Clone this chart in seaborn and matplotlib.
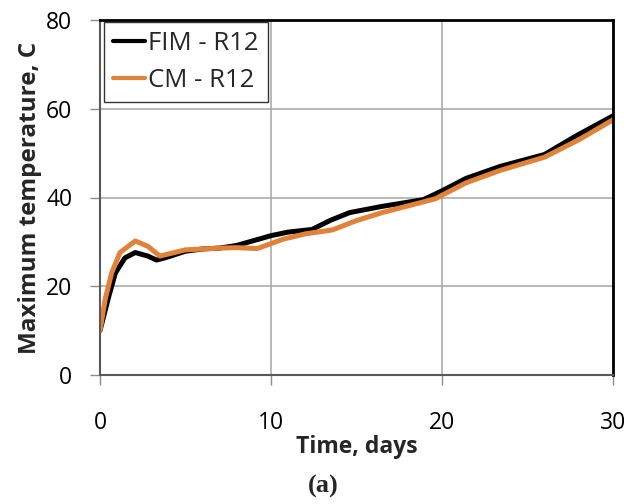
import matplotlib
matplotlib.use("Agg")
import matplotlib.pyplot as plt
import pandas as pd
import seaborn as sns

# Données (temps en jours, température max en C)
temps_fim = [0, 0.5, 0.9, 1.46, 2.06, 2.8, 3.3, 3.8, 5.0, 6.0, 7.0, 8.0, 9.0,
             10.0, 11.0, 12.4, 13.5, 14.6, 16.5, 18.9, 20.0, 21.4, 23.4, 26.0,
             27.8, 30.0]
temp_fim = [10.0, 17.5, 23.0, 26.4, 27.6, 26.8, 25.9, 26.4, 27.9, 28.4,
            28.6, 29.2, 30.3, 31.4, 32.2, 32.8, 34.9, 36.6, 38.0, 39.5, 41.5,
            44.3, 47.0, 49.7, 53.8, 58.4]

temps_cm = [0, 0.3, 0.68, 1.17, 2.06, 2.8, 3.5, 5.0, 6.0, 7.0, 8.0, 9.2, 10.7,
            12.0, 13.6, 15.0, 16.5, 18.0, 19.6, 21.4, 23.4, 26.0, 28.0, 30.0]
temp_cm = [10.0, 17.0, 23.0, 27.6, 30.2, 29.0, 26.8, 28.2, 28.4, 28.6, 28.7,
           28.5, 30.6, 31.8, 32.7, 34.8, 36.6, 38.1, 39.7, 43.3, 46.1, 49.1,
           53.0, 57.5]

series = ["FIM - R12", "CM - R12"]
couleurs = {"FIM - R12": "#000000", "CM - R12": "#E0823A"}

df = pd.concat([
    pd.DataFrame({"Temps": temps_fim, "Temperature": temp_fim, "Serie": series[0]}),
    pd.DataFrame({"Temps": temps_cm, "Temperature": temp_cm, "Serie": series[1]}),
])

sns.set_style("white")
plt.rcParams["font.family"] = ["Open Sans", "DejaVu Sans"]

fig = plt.figure(figsize=(6.3, 5.04), dpi=100)
ax = fig.add_axes([100 / 630, 1 - 375 / 504, 513 / 630, 355 / 504])

sns.lineplot(data=df, x="Temps", y="Temperature", hue="Serie", hue_order=series,
             palette=couleurs, sort=False, linewidth=3.6, ax=ax,
             solid_capstyle="round", solid_joinstyle="round")

ax.set_xlim(0, 30)
ax.set_ylim(0, 80)
ax.set_xticks([0, 10, 20, 30])
ax.set_yticks([0, 20, 40, 60, 80])
ax.grid(True, color="#A6A6A6", linewidth=1.1)
ax.tick_params(axis="both", labelsize=16.5, colors="#8C8C8C", labelcolor="black",
               length=7, width=1, direction="out")
ax.tick_params(axis="x", pad=19)
ax.tick_params(axis="y", pad=13)
ax.tick_params(bottom=True, left=True)

for cote in ["left", "bottom"]:
    ax.spines[cote].set_color("#595959")
    ax.spines[cote].set_linewidth(1.5)
for cote in ["top", "right"]:
    ax.spines[cote].set_color("black")
    ax.spines[cote].set_linewidth(2)

ax.set_xlabel("Time, days", fontsize=16.5, fontweight="bold", labelpad=0)
ax.set_ylabel("Maximum temperature, C", fontsize=17.5, fontweight="bold", labelpad=3)

leg = ax.legend(loc="upper left", bbox_to_anchor=(104 / 630, 1 - 22 / 504),
                bbox_transform=fig.transFigure, borderaxespad=0, fontsize=18.5,
                frameon=True, fancybox=False, edgecolor="black",
                handlelength=1.25, handletextpad=0.12, labelspacing=0.45,
                borderpad=0.35)
leg.get_frame().set_linewidth(1)
leg.get_frame().set_facecolor("white")
for ligne in leg.get_lines():
    ligne.set_linewidth(3)

fig.text(323 / 630, 1 - 486 / 504, "(a)", ha="center", va="center", fontsize=19,
         fontweight="bold", family="Liberation Serif")

fig.savefig("out.png", dpi=100)
